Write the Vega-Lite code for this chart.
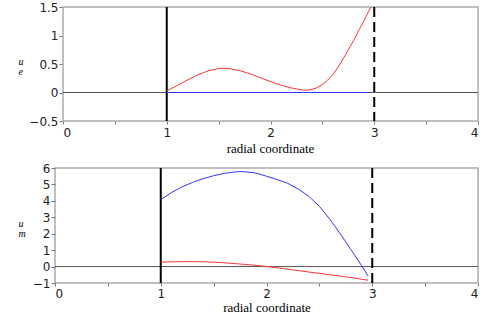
{
  "$schema": "https://vega.github.io/schema/vega-lite/v6.json",
  "padding": {"left": 17, "top": 1, "right": 5, "bottom": 2},
  "spacing": 6,
  "datasets": {
    "top": [
      {"x": 1.0, "y": 0.03, "s": "red"},
      {"x": 1.1, "y": 0.12, "s": "red"},
      {"x": 1.2, "y": 0.22, "s": "red"},
      {"x": 1.3, "y": 0.31, "s": "red"},
      {"x": 1.4, "y": 0.38, "s": "red"},
      {"x": 1.5, "y": 0.42, "s": "red"},
      {"x": 1.55, "y": 0.425, "s": "red"},
      {"x": 1.6, "y": 0.42, "s": "red"},
      {"x": 1.7, "y": 0.385, "s": "red"},
      {"x": 1.8, "y": 0.33, "s": "red"},
      {"x": 1.9, "y": 0.26, "s": "red"},
      {"x": 2.0, "y": 0.19, "s": "red"},
      {"x": 2.1, "y": 0.13, "s": "red"},
      {"x": 2.2, "y": 0.08, "s": "red"},
      {"x": 2.3, "y": 0.045, "s": "red"},
      {"x": 2.35, "y": 0.04, "s": "red"},
      {"x": 2.4, "y": 0.055, "s": "red"},
      {"x": 2.45, "y": 0.085, "s": "red"},
      {"x": 2.5, "y": 0.14, "s": "red"},
      {"x": 2.55, "y": 0.215, "s": "red"},
      {"x": 2.6, "y": 0.31, "s": "red"},
      {"x": 2.65, "y": 0.44, "s": "red"},
      {"x": 2.7, "y": 0.59, "s": "red"},
      {"x": 2.8, "y": 0.91, "s": "red"},
      {"x": 2.9, "y": 1.26, "s": "red"},
      {"x": 2.97, "y": 1.51, "s": "red"},
      {"x": 1.0, "y": 0, "s": "blue"},
      {"x": 2.97, "y": 0, "s": "blue"}
    ],
    "bottom": [
      {"x": 1.0, "y": 0.27, "s": "red"},
      {"x": 1.1, "y": 0.29, "s": "red"},
      {"x": 1.2, "y": 0.3, "s": "red"},
      {"x": 1.3, "y": 0.3, "s": "red"},
      {"x": 1.4, "y": 0.29, "s": "red"},
      {"x": 1.5, "y": 0.27, "s": "red"},
      {"x": 1.6, "y": 0.23, "s": "red"},
      {"x": 1.7, "y": 0.18, "s": "red"},
      {"x": 1.8, "y": 0.13, "s": "red"},
      {"x": 1.9, "y": 0.07, "s": "red"},
      {"x": 2.0, "y": 0.01, "s": "red"},
      {"x": 2.2, "y": -0.16, "s": "red"},
      {"x": 2.4, "y": -0.33, "s": "red"},
      {"x": 2.6, "y": -0.5, "s": "red"},
      {"x": 2.8, "y": -0.67, "s": "red"},
      {"x": 2.96, "y": -0.83, "s": "red"},
      {"x": 1.0, "y": 4.07, "s": "blue"},
      {"x": 1.1, "y": 4.5, "s": "blue"},
      {"x": 1.2, "y": 4.85, "s": "blue"},
      {"x": 1.3, "y": 5.12, "s": "blue"},
      {"x": 1.4, "y": 5.35, "s": "blue"},
      {"x": 1.5, "y": 5.53, "s": "blue"},
      {"x": 1.6, "y": 5.67, "s": "blue"},
      {"x": 1.7, "y": 5.76, "s": "blue"},
      {"x": 1.75, "y": 5.78, "s": "blue"},
      {"x": 1.8, "y": 5.77, "s": "blue"},
      {"x": 1.9, "y": 5.69, "s": "blue"},
      {"x": 2.0, "y": 5.5, "s": "blue"},
      {"x": 2.1, "y": 5.3, "s": "blue"},
      {"x": 2.2, "y": 5.07, "s": "blue"},
      {"x": 2.3, "y": 4.72, "s": "blue"},
      {"x": 2.4, "y": 4.28, "s": "blue"},
      {"x": 2.5, "y": 3.67, "s": "blue"},
      {"x": 2.6, "y": 2.87, "s": "blue"},
      {"x": 2.7, "y": 1.97, "s": "blue"},
      {"x": 2.8, "y": 1.02, "s": "blue"},
      {"x": 2.9, "y": 0.05, "s": "blue"},
      {"x": 2.96, "y": -0.57, "s": "blue"}
    ]
  },
  "vconcat": [
    {
      "width": 423,
      "height": 114,
      "view": {"stroke": null},
      "encoding": {
        "x": {
          "type": "quantitative",
          "scale": {"domain": [0, 4], "nice": false, "range": [8, 423]},
          "axis": {
            "values": [0, 0.5, 1, 1.5, 2, 2.5, 3, 3.5, 4],
            "labelExpr": "datum.value % 1 === 0 ? datum.label : ''",
            "format": "~g",
            "tickSize": 3,
            "labelPadding": 3,
            "title": "radial coordinate",
            "titlePadding": 4,
            "titleX": 215
          }
        },
        "y": {
          "type": "quantitative",
          "scale": {"domain": [-0.5, 1.5], "nice": false, "zero": false},
          "axis": {
            "offset": -8,
            "values": [-0.5, 0, 0.5, 1, 1.5],
            "format": "~g",
            "tickSize": 4,
            "labelPadding": 1,
            "title": ["u", "  e"],
            "titleAngle": 0,
            "titleAlign": "left",
            "titleBaseline": "top",
            "titleFontStyle": "italic",
            "titleFontSize": 10,
            "titleLineHeight": 10,
            "titleX": -45,
            "titleY": 49
          }
        }
      },
      "layer": [
        {
          "data": {"values": [{}]},
          "mark": {"type": "rect", "fill": null, "stroke": "#aaaaaa", "strokeWidth": 1.5},
          "encoding": {
            "x": {"datum": 0, "type": "quantitative"},
            "x2": {"datum": 4},
            "y": {"datum": -0.5, "type": "quantitative"},
            "y2": {"datum": 1.5}
          }
        },
        {
          "data": {"values": [{}]},
          "mark": {"type": "rule", "color": "#555555", "strokeWidth": 1},
          "encoding": {
            "x": {"datum": 0, "type": "quantitative"},
            "x2": {"datum": 4},
            "y": {"datum": 0, "type": "quantitative"}
          }
        },
        {
          "data": {"values": [{}]},
          "mark": {"type": "rule", "color": "black", "strokeWidth": 2},
          "encoding": {"x": {"datum": 1, "type": "quantitative"}}
        },
        {
          "data": {"values": [{}]},
          "mark": {"type": "rule", "color": "black", "strokeWidth": 2, "strokeDash": [10, 5]},
          "encoding": {"x": {"datum": 3, "type": "quantitative"}}
        },
        {
          "data": {"name": "top"},
          "mark": {"type": "line", "strokeWidth": 1, "clip": true},
          "encoding": {
            "x": {"field": "x", "type": "quantitative"},
            "y": {"field": "y", "type": "quantitative"},
            "color": {
              "field": "s", "type": "nominal",
              "scale": {"domain": ["red", "blue"], "range": ["#ff3333", "#3333ff"]},
              "legend": null
            },
            "detail": {"field": "s"}
          }
        }
      ]
    },
    {
      "width": 423,
      "height": 115,
      "encoding": {
        "x": {
          "type": "quantitative",
          "scale": {"domain": [0, 4], "nice": false},
          "axis": {
            "values": [0, 0.5, 1, 1.5, 2, 2.5, 3, 3.5, 4],
            "labelExpr": "datum.value % 1 === 0 ? datum.label : ''",
            "format": "~g",
            "tickSize": 3,
            "labelPadding": 2,
            "title": "radial coordinate",
            "titlePadding": 2
          }
        },
        "y": {
          "type": "quantitative",
          "scale": {"domain": [-1, 6], "nice": false, "zero": false},
          "axis": {
            "values": [-1, 0, 1, 2, 3, 4, 5, 6],
            "format": "~g",
            "tickSize": 4,
            "labelPadding": 1,
            "title": ["u", "  m"],
            "titleAngle": 0,
            "titleAlign": "left",
            "titleBaseline": "top",
            "titleFontStyle": "italic",
            "titleFontSize": 10,
            "titleLineHeight": 10,
            "titleX": -37,
            "titleY": 50
          }
        }
      },
      "layer": [
        {
          "data": {"values": [{}]},
          "mark": {"type": "rule", "color": "#555555", "strokeWidth": 1},
          "encoding": {"y": {"datum": 0, "type": "quantitative"}}
        },
        {
          "data": {"values": [{}]},
          "mark": {"type": "rule", "color": "black", "strokeWidth": 2},
          "encoding": {"x": {"datum": 1, "type": "quantitative"}}
        },
        {
          "data": {"values": [{}]},
          "mark": {"type": "rule", "color": "black", "strokeWidth": 2, "strokeDash": [10, 5]},
          "encoding": {"x": {"datum": 3, "type": "quantitative"}}
        },
        {
          "data": {"name": "bottom"},
          "mark": {"type": "line", "strokeWidth": 1, "clip": true},
          "encoding": {
            "x": {"field": "x", "type": "quantitative"},
            "y": {"field": "y", "type": "quantitative"},
            "color": {
              "field": "s", "type": "nominal",
              "scale": {"domain": ["red", "blue"], "range": ["#ff3333", "#3333ff"]},
              "legend": null
            },
            "detail": {"field": "s"}
          }
        }
      ]
    }
  ],
  "config": {
    "view": {"stroke": "#aaaaaa", "strokeWidth": 1.5},
    "axis": {
      "domain": false,
      "grid": false,
      "labelOverlap": false,
      "labelFont": "DejaVu Sans",
      "labelFontSize": 12,
      "labelColor": "#222222",
      "tickColor": "#777777",
      "titleFont": "Liberation Serif",
      "titleFontSize": 13,
      "titleFontWeight": "normal",
      "titleColor": "#000000"
    }
  }
}
